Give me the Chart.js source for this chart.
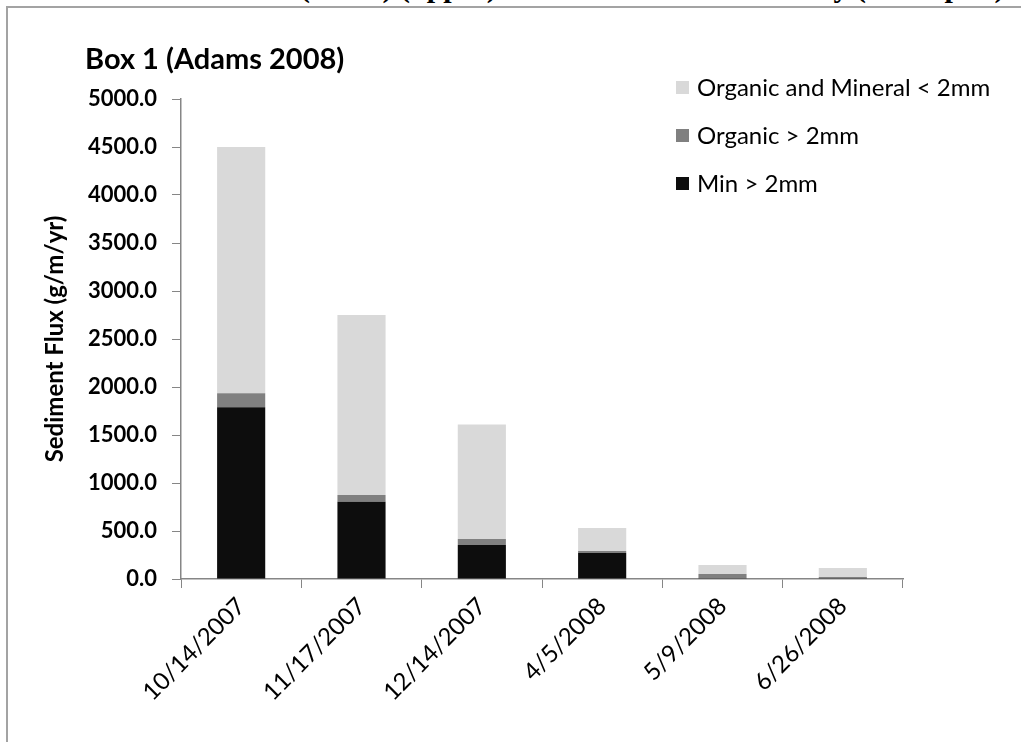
<!DOCTYPE html>
<html>
<head>
<meta charset="utf-8">
<script src="https://cdn.jsdelivr.net/npm/chart.js@4.4.0/dist/chart.umd.min.js"></script>
<style>
  html, body { margin:0; padding:0; background:#fff; }
  body { width:1021px; height:742px; position:relative; overflow:hidden; font-family: Lato, "Noto Sans", sans-serif; }
  #frame { position:absolute; left:6px; top:6px; width:1100px; height:800px; border-left:2px solid #a3a3a3; border-top:2px solid #a3a3a3; box-sizing:border-box; }
  #hdr { position:absolute; left:0; top:0; width:1021px; height:6px; overflow:hidden; }
  #hdr span { position:absolute; top:-28px; font-family:"Liberation Serif", "DejaVu Serif", serif; font-weight:bold; font-size:30px; line-height:30px; white-space:nowrap; color:#000; }
  #wrap { position:absolute; left:0; top:0; width:1021px; height:742px; }
  #title { position:absolute; left:85px; top:40px; font-weight:bold; font-size:29px; line-height:36px; color:#000; white-space:nowrap; }
  #legend { position:absolute; left:676px; top:72px; }
  .item { position:absolute; left:0; height:30px; white-space:nowrap; font-size:24px; line-height:30px; color:#000; }
  .sw { display:inline-block; width:13px; height:13px; vertical-align:middle; margin-right:8px; position:relative; top:-2px; }
</style>
</head>
<body>
<div id="hdr"><span style="left:300px">(Box 1) (upper)</span><span style="left:600px">and Flux Summary (lower plot)</span></div>
<div id="frame"></div>
<div id="wrap"><canvas id="c" width="1021" height="742"></canvas></div>
<div id="title">Box 1 (Adams 2008)</div>
<div id="legend"></div>
<script>
const categories = ['10/14/2007', '11/17/2007', '12/14/2007', '4/5/2008', '5/9/2008', '6/26/2008'];
const minGt2 = [1790, 805, 355, 270, 2, 3];
const organicGt2 = [145, 70, 62, 22, 50, 18];
const organicMineralLt2 = [2565, 1875, 1193, 238, 94, 94];
const seriesNames = ['Min > 2mm', 'Organic > 2mm', 'Organic and Mineral < 2mm'];
const seriesColors = ['#0d0d0d', '#808080', '#d9d9d9'];
const yMin = 0, yMax = 5000, yStep = 500;
const yTitle = 'Sediment Flux (g/m/yr)';

const seriesValues = [minGt2, organicGt2, organicMineralLt2];
const axisColor = '#868686';

const chart = new Chart(document.getElementById('c'), {
  type: 'bar',
  data: {
    labels: categories,
    datasets: seriesValues.map((vals, i) => ({
      label: seriesNames[i],
      data: vals,
      backgroundColor: seriesColors[i],
      borderWidth: 0,
      barPercentage: 0.4,
      categoryPercentage: 1.0
    }))
  },
  options: {
    responsive: false,
    animation: false,
    devicePixelRatio: 1,
    layout: { padding: { left: 41, top: 99, right: 118, bottom: 0 } },
    plugins: { legend: { display: false }, title: { display: false }, tooltip: { enabled: false } },
    scales: {
      x: {
        stacked: true,
        grid: { display: true, drawOnChartArea: false, drawTicks: true, tickLength: 9, color: axisColor, offset: true },
        border: { color: axisColor, width: 1.5 },
        ticks: { color: '#000', font: { family: 'Lato', size: 24 }, maxRotation: 45, minRotation: 45, padding: 4, autoSkip: false },
        afterFit: (s) => { s.height = 163; }
      },
      y: {
        stacked: true,
        min: yMin, max: yMax,
        grid: { display: true, drawOnChartArea: false, drawTicks: true, tickLength: 9, color: axisColor },
        border: { color: axisColor, width: 1.5 },
        ticks: { stepSize: yStep, color: '#000', font: { family: 'Lato', size: 22, weight: 'bold' }, padding: 15,
                 callback: (v) => Number(v).toFixed(1) },
        title: { display: true, text: yTitle, color: '#000', font: { family: 'Lato', size: 24, weight: 'bold' }, padding: 0 },
        afterFit: (s) => { s.width = 181 - 41; }
      }
    }
  }
});

// legend (reversed order, as in the reference)
const leg = document.getElementById('legend');
const tops = [0, 48, 96];
[2, 1, 0].forEach((idx, k) => {
  const d = document.createElement('div');
  d.className = 'item';
  d.style.top = tops[k] + 'px';
  const sw = document.createElement('span');
  sw.className = 'sw';
  sw.style.background = seriesColors[idx];
  d.appendChild(sw);
  d.appendChild(document.createTextNode(seriesNames[idx]));
  leg.appendChild(d);
});
</script>
</body>
</html>
